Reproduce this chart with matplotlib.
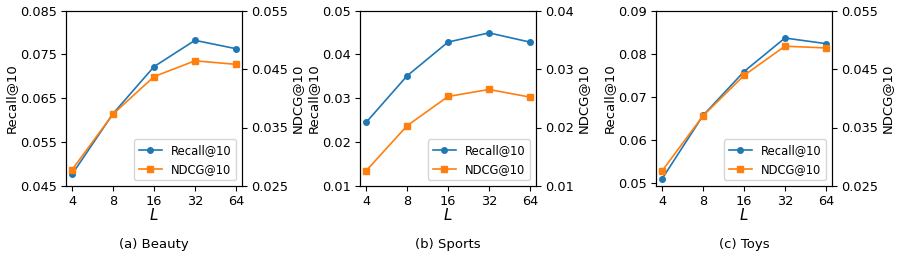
import matplotlib
matplotlib.use('Agg')
import matplotlib.pyplot as plt

# Data
L_values = ['4', '8', '16', '32', '64']
datasets = ['(a) Beauty', '(b) Sports', '(c) Toys']

recall_beauty = [0.0477, 0.0615, 0.0722, 0.0782, 0.0763]
ndcg_beauty = [0.0278, 0.0373, 0.0437, 0.0464, 0.0458]

recall_sports = [0.0245, 0.0351, 0.0428, 0.0449, 0.0428]
ndcg_sports = [0.0126, 0.0203, 0.0253, 0.0265, 0.0252]

recall_toys = [0.0509, 0.0656, 0.0758, 0.0836, 0.0823]
ndcg_toys = [0.0276, 0.0370, 0.0439, 0.0489, 0.0486]

recall_all = [recall_beauty, recall_sports, recall_toys]
ndcg_all = [ndcg_beauty, ndcg_sports, ndcg_toys]

# Axis ranges and ticks per panel
recall_lims = [(0.045, 0.085), (0.01, 0.05), (0.0492, 0.09)]
recall_ticks = [[0.045, 0.055, 0.065, 0.075, 0.085],
                [0.01, 0.02, 0.03, 0.04, 0.05],
                [0.05, 0.06, 0.07, 0.08, 0.09]]
recall_fmt = ['%.3f', '%.2f', '%.2f']
ndcg_lims = [(0.025, 0.055), (0.01, 0.04), (0.025, 0.055)]
ndcg_ticks = [[0.025, 0.035, 0.045, 0.055],
              [0.01, 0.02, 0.03, 0.04],
              [0.025, 0.035, 0.045, 0.055]]
ndcg_fmt = ['%.3f', '%.2f', '%.3f']

fig = plt.figure(figsize=(8.97, 2.58), dpi=100)
lefts = [66, 360, 656]
W, H = 897, 258
ax_w, ax_h = 176, 175.5
ax_bottom = 186

x = list(range(len(L_values)))
for i in range(3):
    ax = fig.add_axes([lefts[i] / W, (H - ax_bottom) / H, ax_w / W, ax_h / H])
    ax2 = ax.twinx()
    l1, = ax.plot(x, recall_all[i], marker='o', markersize=4, lw=1.2,
                  color='tab:blue', label='Recall@10')
    l2, = ax2.plot(x, ndcg_all[i], marker='s', markersize=4, lw=1.2,
                   color='tab:orange', label='NDCG@10')
    ax.set_xlim(-0.15, 4.15)
    ax.set_xticks(x)
    ax.set_xticklabels(L_values)
    ax.set_ylim(*recall_lims[i])
    ax.set_yticks(recall_ticks[i])
    ax.set_yticklabels([recall_fmt[i] % v for v in recall_ticks[i]])
    ax2.set_ylim(*ndcg_lims[i])
    ax2.set_yticks(ndcg_ticks[i])
    ax2.set_yticklabels([ndcg_fmt[i] % v for v in ndcg_ticks[i]])
    ax.tick_params(labelsize=9.3, pad=3)
    ax2.tick_params(labelsize=9.3, pad=3)
    ax.set_ylabel('Recall@10', fontsize=9.5, labelpad=2)
    ax2.set_ylabel('NDCG@10', fontsize=9.5, labelpad=2)
    ax.set_xlabel('$L$', fontsize=11, labelpad=-1)
    ax.legend([l1, l2], ['Recall@10', 'NDCG@10'], loc='lower right',
              fontsize=8.3, borderaxespad=0.5)
    ax.text(0.5, -0.335, datasets[i], transform=ax.transAxes, ha='center',
            va='center', fontsize=9.5)

plt.savefig('out.png', dpi=100)
